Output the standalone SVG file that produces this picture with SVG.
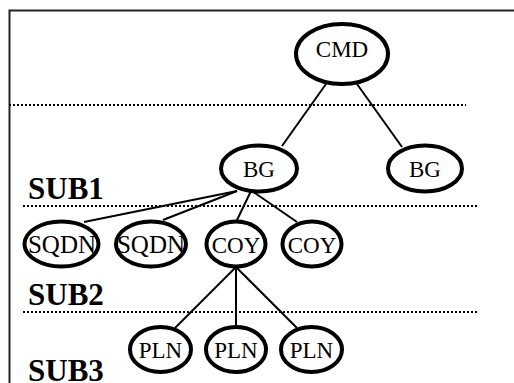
<svg xmlns="http://www.w3.org/2000/svg" width="514" height="383" viewBox="0 0 514 383">
<style>
.n{fill:#fff;stroke:#000;stroke-width:4}
.t{font-family:"Liberation Serif","Times New Roman",serif;font-size:23px;fill:#000;text-anchor:middle}
.w{font-size:25px}
.s{font-family:"Liberation Serif","Times New Roman",serif;font-size:31px;font-weight:bold;fill:#000}
.d{stroke:#000;stroke-width:2;stroke-dasharray:2 2;fill:none}
.c{stroke:#000;stroke-width:2;fill:none}
</style>
<rect width="514" height="383" fill="#fff"/>
<g id="frame"><path d="M9.5 383V10.5H514" fill="none" stroke="#222" stroke-width="2"/></g>
<g id="levels">
<line class="d" x1="9" y1="105" x2="466" y2="105"/>
<line class="d" x1="23" y1="206" x2="478" y2="206"/>
<line class="d" x1="23" y1="312" x2="478" y2="312"/>
<text class="s" x="28" y="199">SUB1</text>
<text class="s" x="28" y="305">SUB2</text>
<text class="s" x="28" y="381">SUB3</text>
</g>
<g id="connectors">
<line class="c" x1="326" y1="84" x2="282" y2="146"/>
<line class="c" x1="357" y1="84" x2="402" y2="147"/>
<line class="c" x1="237" y1="191" x2="84" y2="222"/>
<line class="c" x1="237" y1="191" x2="163" y2="220"/>
<line class="c" x1="251" y1="191" x2="237" y2="220"/>
<line class="c" x1="252" y1="191" x2="297" y2="222"/>
<line class="c" x1="236" y1="267" x2="175" y2="328"/>
<line class="c" x1="236" y1="267" x2="236" y2="326"/>
<line class="c" x1="236" y1="267" x2="297" y2="328"/>
</g>
<g id="cmd"><ellipse class="n" cx="342" cy="54" rx="46" ry="30"/><text class="t" x="342" y="57">CMD</text></g>
<g id="bg1"><ellipse class="n" cx="259" cy="168.5" rx="38" ry="23"/><text class="t" x="259" y="177">BG</text></g>
<g id="bg2"><ellipse class="n" cx="425" cy="168.5" rx="37" ry="23"/><text class="t" x="425" y="177">BG</text></g>
<g id="sqdn1"><ellipse class="n" cx="61.5" cy="244" rx="37" ry="22.5"/><text class="t w" x="62" y="253">SQDN</text></g>
<g id="sqdn2"><ellipse class="n" cx="151" cy="244" rx="35" ry="22.5"/><text class="t w" x="151" y="253">SQDN</text></g>
<g id="coy1"><ellipse class="n" cx="236" cy="244" rx="29.5" ry="22.5"/><text class="t" x="236" y="253">COY</text></g>
<g id="coy2"><ellipse class="n" cx="312" cy="244" rx="29.5" ry="22.5"/><text class="t" x="312" y="253">COY</text></g>
<g id="pln1"><ellipse class="n" cx="160.5" cy="349.5" rx="30.5" ry="22.5"/><text class="t" x="160.5" y="358">PLN</text></g>
<g id="pln2"><ellipse class="n" cx="236" cy="349.5" rx="30" ry="22.5"/><text class="t" x="236" y="358">PLN</text></g>
<g id="pln3"><ellipse class="n" cx="311.5" cy="349.5" rx="30.5" ry="22.5"/><text class="t" x="311.5" y="358">PLN</text></g>
</svg>
